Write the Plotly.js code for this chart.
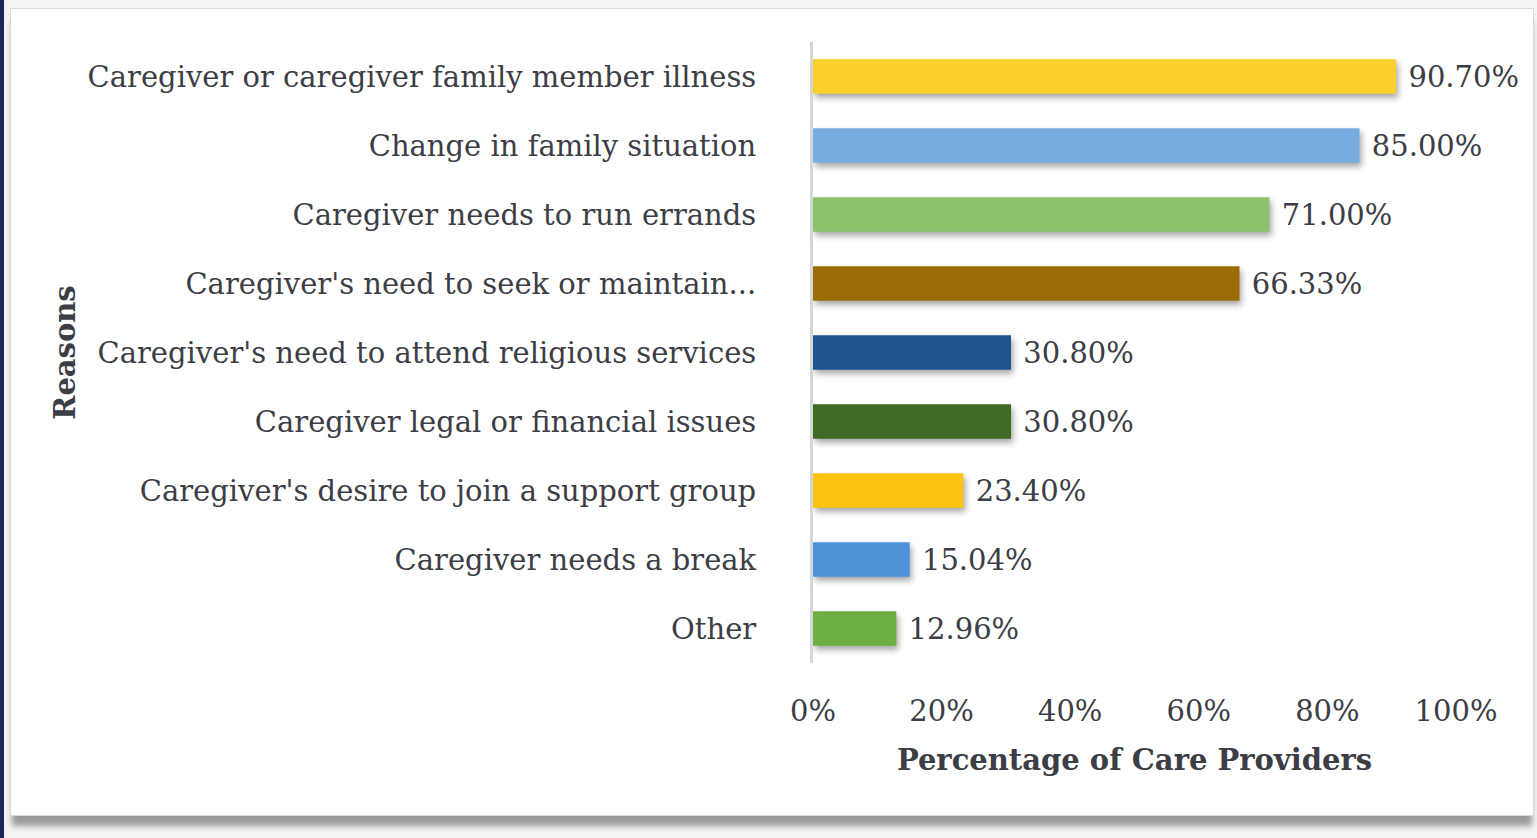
<!DOCTYPE html>
<html>
<head>
<meta charset="utf-8">
<script src="https://cdn.plot.ly/plotly-3.0.1.min.js"></script>
<style>
  html, body { margin: 0; padding: 0; width: 1537px; height: 838px; overflow: hidden; background: #f4f4f4; }
  #stripe { position: absolute; left: 0; top: 0; width: 4px; height: 838px; background: #1b2452; }
  #box { position: absolute; left: 10px; top: 8px; width: 1522px; height: 806px; background: #ffffff;
         border: 1px solid #dcdcdc; box-shadow: 0 12px 6px -2px #9a9a9a; }
  #chart { position: absolute; left: 0; top: 0; width: 1537px; height: 838px; }
  #chart .barlayer .point path { filter: drop-shadow(2px 4px 3px rgba(0,0,0,0.35)); }
</style>
</head>
<body>
<div id="stripe"></div>
<div id="box"></div>
<div id="chart"></div>
<script>
const categories = [
  "Caregiver or caregiver family member illness",
  "Change in family situation",
  "Caregiver needs to run errands",
  "Caregiver's need to seek or maintain...",
  "Caregiver's need to attend religious services",
  "Caregiver legal or financial issues",
  "Caregiver's desire to join a support group",
  "Caregiver needs a break",
  "Other"
];
const percentages = [90.70, 85.00, 71.00, 66.33, 30.80, 30.80, 23.40, 15.04, 12.96];
const barColors = ["#fbcf2c", "#77acdf", "#8bc26c", "#9b6c05", "#1f558f", "#3e6a25", "#fcc310", "#4d93d8", "#6cae41"];
const tickValues = [0, 20, 40, 60, 80, 100];
const xTitle = "Percentage of Care Providers";
const yTitle = "Reasons";

const fontFam = "DejaVu Serif, Liberation Serif, serif";
const txtColor = "#3d3d45";
const fs = 29;

const trace = {
  type: "bar",
  orientation: "h",
  x: percentages,
  y: categories,
  marker: { color: barColors, line: { width: 0 } },
  width: 0.5,
  texttemplate: " %{x:.2f}%",
  textposition: "outside",
  cliponaxis: false,
  textfont: { family: fontFam, size: fs, color: txtColor },
  hoverinfo: "none"
};

const layout = {
  width: 1537, height: 838,
  margin: { l: 813, r: 81, t: 42, b: 175 },
  paper_bgcolor: "rgba(0,0,0,0)",
  plot_bgcolor: "rgba(0,0,0,0)",
  font: { family: fontFam, size: fs, color: txtColor },
  showlegend: false,
  xaxis: {
    range: [0, 100],
    tickvals: tickValues,
    ticktext: tickValues.map(v => v + "%"),
    showgrid: false, zeroline: false, showline: false, ticks: "",
    ticklabelstandoff: 28,
    tickfont: { family: fontFam, size: fs, color: txtColor },
    title: { text: "<b>" + xTitle + "</b>", standoff: 22, font: { family: fontFam, size: fs, color: txtColor } }
  },
  yaxis: {
    type: "category",
    autorange: "reversed",
    showgrid: false, zeroline: false,
    showline: true, linecolor: "#d6d6d6", linewidth: 3,
    ticks: "",
    ticklabelstandoff: 48,
    tickfont: { family: fontFam, size: fs, color: txtColor },
    title: { text: "<b>" + yTitle + "</b>", standoff: 4, font: { family: fontFam, size: fs, color: txtColor } }
  }
};

Plotly.newPlot("chart", [trace], layout, { displayModeBar: false, staticPlot: true });
</script>
</body>
</html>
